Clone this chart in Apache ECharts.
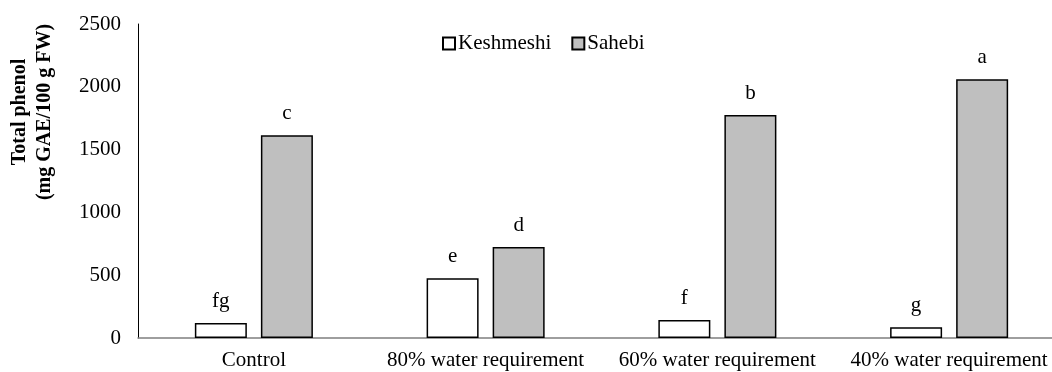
<!DOCTYPE html>
<html>
<head>
<meta charset="utf-8">
<script src="https://cdn.jsdelivr.net/npm/echarts@6/dist/echarts.min.js"></script>
<style>
  html, body { margin: 0; padding: 0; background: #fff; }
  #chart { width: 1052px; height: 372px; }
</style>
</head>
<body>
<div id="chart"></div>
<script>
// Irrigation treatments
const categories = ['Control', '80% water requirement', '60% water requirement', '40% water requirement'];
// Total phenol (mg GAE/100 g FW) per cultivar
const keshmeshi = [120, 475, 143, 85];
const sahebi = [1615, 725, 1775, 2060];
// Mean-separation letters
const keshmeshiLetters = ['fg', 'e', 'f', 'g'];
const sahebiLetters = ['c', 'd', 'b', 'a'];
// Value axis ticks
const yMin = 0, yMax = 2500, yStep = 500;

const FONT = "'Liberation Serif', 'Times New Roman', serif";

const chart = echarts.init(document.getElementById('chart'), null, { renderer: 'canvas' });

function letterLabel(letters) {
  return {
    show: true,
    position: 'top',
    distance: 11,
    fontFamily: FONT,
    fontSize: 21,
    color: '#000',
    formatter: p => letters[p.dataIndex]
  };
}

chart.setOption({
  animation: false,
  backgroundColor: '#fff',
  textStyle: { fontFamily: FONT },
  grid: {
    left: 138, top: 24, bottom: 34, right: -13,
    outerBoundsMode: 'none',
    containLabel: false
  },
  legend: {
    left: 437, top: 28,
    itemWidth: 12, itemHeight: 12, itemGap: 20,
    icon: 'rect',
    textStyle: { fontFamily: FONT, fontSize: 21, color: '#000', padding: [0, 0, 0, -2] },
    data: ['Keshmeshi', 'Sahebi']
  },
  xAxis: {
    type: 'category',
    data: categories,
    axisLine: { show: true, lineStyle: { color: '#7f7f7f', width: 1.5 } },
    axisTick: { show: false },
    axisLabel: { fontFamily: FONT, fontSize: 21, color: '#000', margin: 12, interval: 0 },
    splitLine: { show: false }
  },
  yAxis: {
    type: 'value',
    min: yMin, max: yMax, interval: yStep,
    axisLine: { show: true, lineStyle: { color: '#000', width: 1 } },
    axisTick: { show: false },
    splitLine: { show: false },
    axisLabel: {
      fontFamily: FONT, fontSize: 21, color: '#000', margin: 17,
      formatter: v => String(v)
    }
  },
  graphic: [{
    type: 'text',
    x: 32, y: 112,
    rotation: Math.PI / 2,
    style: {
      text: 'Total phenol\n(mg GAE/100 g FW)',
      fontFamily: FONT,
      fontSize: 20,
      fontWeight: 'bold',
      lineHeight: 25,
      fill: '#000',
      align: 'center',
      verticalAlign: 'middle'
    }
  }],
  series: [
    {
      name: 'Keshmeshi',
      type: 'bar',
      data: keshmeshi,
      barWidth: 52,
      barGap: '27%',
      itemStyle: { color: '#ffffff', borderColor: '#000', borderWidth: 1.5 },
      label: letterLabel(keshmeshiLetters)
    },
    {
      name: 'Sahebi',
      type: 'bar',
      data: sahebi,
      barWidth: 52,
      barGap: '27%',
      itemStyle: { color: '#bfbfbf', borderColor: '#000', borderWidth: 1.5 },
      label: letterLabel(sahebiLetters)
    }
  ]
});
</script>
</body>
</html>
